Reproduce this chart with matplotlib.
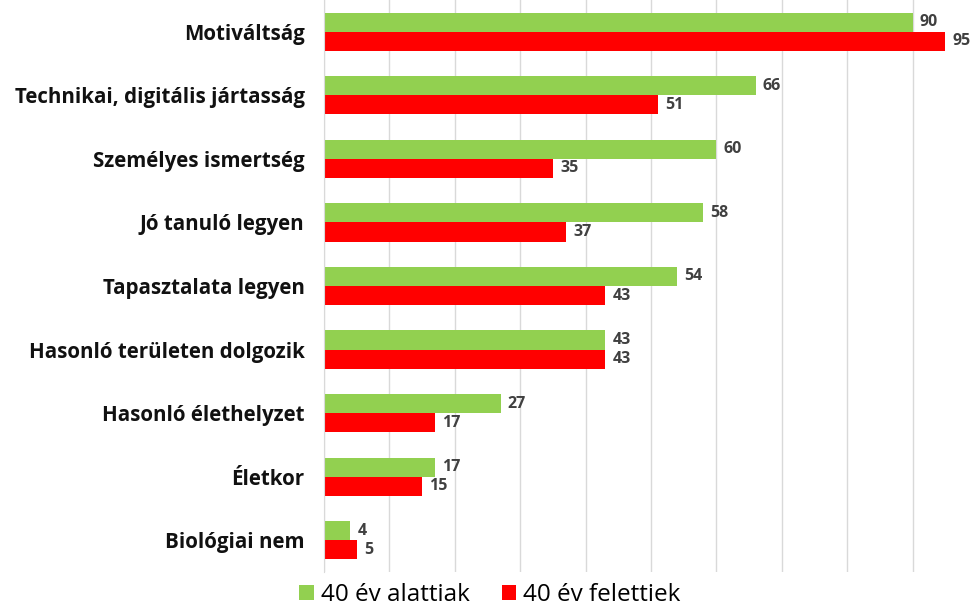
import matplotlib
matplotlib.use("Agg")
import matplotlib.pyplot as plt
import numpy as np

categories = ["Motiváltság", "Technikai, digitális jártasság", "Személyes ismertség",
              "Jó tanuló legyen", "Tapasztalata legyen", "Hasonló területen dolgozik",
              "Hasonló élethelyzet", "Életkor", "Biológiai nem"]
under40 = [90, 66, 60, 58, 54, 43, 27, 17, 4]
over40 = [95, 51, 35, 37, 43, 43, 17, 15, 5]
series_names = ["40 év alattiak", "40 év felettiek"]
colors = ["#92D050", "#FF0000"]

plt.rcParams['font.family'] = ['Open Sans', 'DejaVu Sans']

fig = plt.figure(figsize=(9.76, 6.08), dpi=100)
ax = fig.add_axes([324/976, 36/608, 1 - 324/976, 572/608])

y = np.arange(len(categories))
h = 0.3
b1 = ax.barh(y - h/2, under40, height=h, color=colors[0], label=series_names[0])
b2 = ax.barh(y + h/2, over40, height=h, color=colors[1], label=series_names[1])

for bars, vals in ((b1, under40), (b2, over40)):
    for rect, v in zip(bars, vals):
        ax.text(rect.get_width() + 1.1, rect.get_y() + rect.get_height()/2, str(v),
                va='center', ha='left', fontsize=11.5, fontweight='bold', color='#404040')

ax.set_ylim(len(categories) - 0.5, -0.5)
ax.set_xlim(0, 99.7)
ax.set_xticks(np.arange(0, 100, 10))
ax.tick_params(axis='x', length=0, labelbottom=False)
ax.tick_params(axis='y', length=0, pad=14)
ax.set_yticks(y)
ax.set_yticklabels(categories, fontsize=14.8, fontweight='bold', color='#111111')
ax.grid(axis='x', color='#D9D9D9', linewidth=1)
ax.set_axisbelow(True)
for s in ['top', 'right', 'bottom']:
    ax.spines[s].set_visible(False)
ax.spines['left'].set_color('#D9D9D9')

fig.legend(handles=[b1, b2], labels=series_names, loc='center', bbox_to_anchor=(490/976, 1 - 595/608),
           ncol=2, frameon=False, fontsize=17.5, handlelength=0.6, handleheight=0.6,
           handletextpad=0.3, columnspacing=1.3, borderaxespad=0)

fig.savefig("out.png", dpi=100)
